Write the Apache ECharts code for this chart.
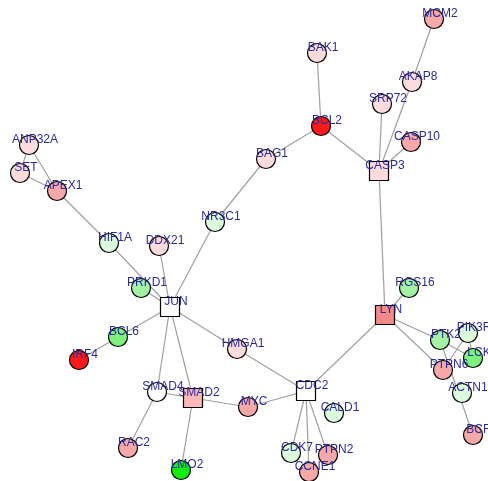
<!DOCTYPE html>
<html>
<head>
<meta charset="utf-8">
<script src="https://cdn.jsdelivr.net/npm/echarts@6/dist/echarts.min.js"></script>
<style>
  html, body { margin: 0; padding: 0; background: #fff; }
  #graph { width: 488px; height: 481px; }
</style>
</head>
<body>
<div id="graph"></div>
<script>
// 节点
var nodeNames = ['MCM2', 'BAK1', 'AKAP8', 'SRP72', 'BCL2', 'CASP10', 'CASP3', 'BAG1',
	'ANP32A', 'SET', 'APEX1', 'HIF1A', 'DDX21', 'NR3C1', 'PRKD1', 'JUN', 'BCL6', 'IRF4',
	'HMGA1', 'SMAD4', 'SMAD2', 'MYC', 'CDC2', 'CALD1', 'RAC2', 'LMO2', 'CDK7', 'PTPN2',
	'CCNE1', 'LYN', 'RGS16', 'PTK2', 'PIK3R', 'LCK', 'PTPN6', 'ACTN1', 'BCR'];
var nodeX = [434, 317, 412, 382, 321, 411, 379, 266,
	29, 20, 57, 109, 159, 215, 141, 170, 118, 79,
	237, 157, 193, 248, 306, 334, 128, 181, 291, 328,
	309, 385, 409, 440, 468, 473, 443, 462, 473];
var nodeY = [19, 53, 82, 104, 126, 142, 171, 159,
	145, 173, 191, 243, 246, 222, 288, 307, 337, 360,
	349, 392, 398, 407, 391, 413, 448, 470, 453, 455,
	472, 315, 288, 340, 333, 358, 370, 393, 435];
// 表达等级
var nodeLevel = ['pink', 'ltpink', 'ltpink', 'ltpink', 'red', 'pink', 'ltpink', 'ltpink',
	'ltpink', 'ltpink', 'pink', 'ltgreen', 'ltpink', 'ltgreen', 'midgreen', 'none', 'green', 'red',
	'ltpink', 'none', 'midpink', 'pink', 'none', 'ltgreen', 'pink', 'brightgreen', 'ltgreen', 'pink',
	'pink', 'salmon', 'midgreen', 'midgreen', 'ltgreen', 'green', 'pink', 'ltgreen', 'pink'];
var hubNodes = ['CASP3', 'JUN', 'SMAD2', 'CDC2', 'LYN'];

// 连线
var edgeList = [
	['MCM2', 'AKAP8'], ['AKAP8', 'CASP3'], ['SRP72', 'CASP3'], ['CASP10', 'CASP3'],
	['BCL2', 'CASP3'], ['BAK1', 'BCL2'], ['BCL2', 'BAG1'], ['BAG1', 'NR3C1'],
	['NR3C1', 'JUN'], ['CASP3', 'LYN'], ['LYN', 'RGS16'], ['LYN', 'CDC2'],
	['LYN', 'PTK2'], ['LYN', 'PTPN6'], ['PTK2', 'LCK'], ['PTK2', 'BCR'],
	['PTPN6', 'PIK3R'], ['PIK3R', 'LCK'], ['ANP32A', 'SET'], ['SET', 'APEX1'],
	['ANP32A', 'APEX1'], ['APEX1', 'HIF1A'], ['HIF1A', 'JUN'], ['PRKD1', 'JUN'],
	['DDX21', 'JUN'], ['BCL6', 'JUN'], ['IRF4', 'BCL6'], ['JUN', 'SMAD4'],
	['JUN', 'SMAD2'], ['JUN', 'HMGA1'], ['HMGA1', 'CDC2'], ['SMAD4', 'SMAD2'],
	['SMAD4', 'RAC2'], ['SMAD2', 'LMO2'], ['SMAD2', 'MYC'], ['MYC', 'CDC2'],
	['CDC2', 'CDK7'], ['CDC2', 'CCNE1'], ['CDC2', 'PTPN2']
];

var levelColor = {
	none: '#ffffff',
	ltpink: '#ffdcdc',
	midpink: '#ffb8b8',
	pink: '#f7a8a8',
	salmon: '#f28a8a',
	red: '#ff1a1a',
	ltgreen: '#dcfadc',
	midgreen: '#a4f2a4',
	green: '#7cf27c',
	brightgreen: '#10ee10'
};

var myChart = echarts.init(document.getElementById('graph'));

var nodes = [];
for (var i = 0; i < nodeNames.length; i++) {
	nodes.push({
		name: nodeNames[i],
		value: [nodeX[i], nodeY[i]],
		symbol: hubNodes.indexOf(nodeNames[i]) >= 0 ? 'rect' : 'circle',
		itemStyle: { color: levelColor[nodeLevel[i]] }
	});
}
var links = edgeList.map(function (e) {
	return { source: e[0], target: e[1] };
});

var option = {
	animation: false,
	grid: { left: 0, right: 0, top: 0, bottom: 0 },
	xAxis: { type: 'value', min: 0, max: 488, show: false },
	yAxis: { type: 'value', min: 0, max: 481, inverse: true, show: false },
	series: [
		{
			type: 'graph',
			coordinateSystem: 'cartesian2d',
			layout: 'none',
			symbolSize: 19,
			data: nodes,
			links: links,
			itemStyle: {
				borderColor: '#000',
				borderWidth: 1.2
			},
			lineStyle: {
				color: '#a0a0a0',
				width: 1.2,
				opacity: 1
			},
			label: {
				show: true,
				position: 'inside',
				offset: [6, -5],
				color: '#2b2b9e',
				fontSize: 12,
				fontFamily: 'Liberation Sans, Arial, sans-serif',
				formatter: '{b}'
			},
			emphasis: { disabled: true }
		}
	]
};
myChart.setOption(option);
</script>
</body>
</html>
